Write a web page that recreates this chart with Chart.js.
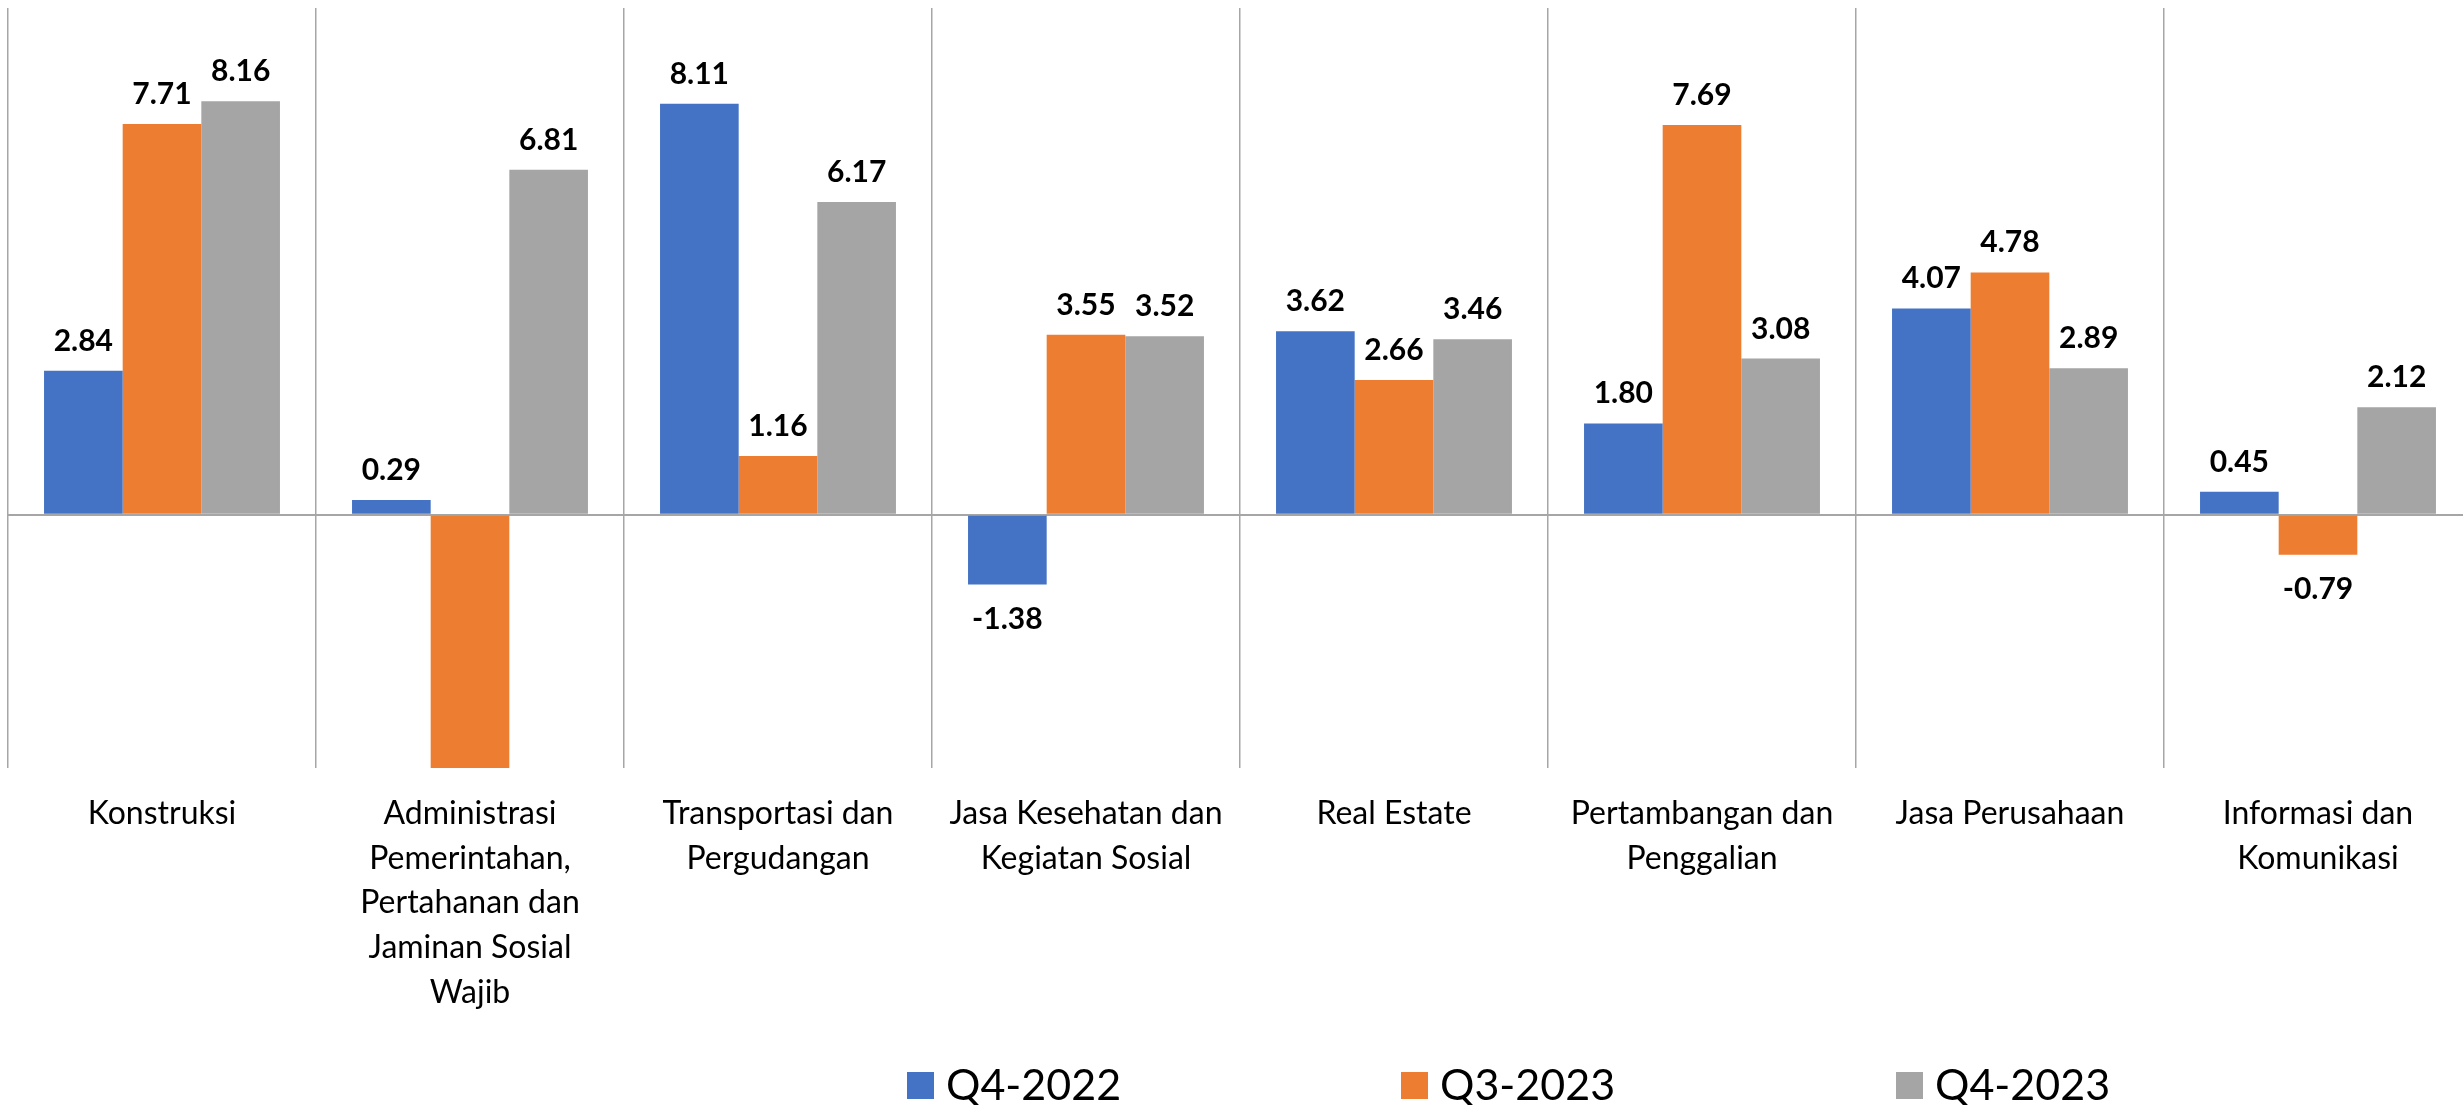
<!DOCTYPE html>
<html lang="id">
<head>
<meta charset="utf-8">
<title>Pertumbuhan Lapangan Usaha</title>
<script src="https://cdn.jsdelivr.net/npm/chart.js@4.4.1/dist/chart.umd.min.js"></script>
<style>
    html, body { margin: 0; padding: 0; background: #fff; overflow: hidden; }
    #wrap { width: 2463px; height: 1105px; overflow: hidden; }
    canvas { display: block; }
</style>
</head>
<body>
<div id="wrap"><canvas id="growthChart" width="2472" height="1105"></canvas></div>
<script>
// Lapangan usaha (label dipecah per baris seperti di sumbu)
const kategori = [
    ['Konstruksi'],
    ['Administrasi', 'Pemerintahan,', 'Pertahanan dan', 'Jaminan Sosial', 'Wajib'],
    ['Transportasi dan', 'Pergudangan'],
    ['Jasa Kesehatan dan', 'Kegiatan Sosial'],
    ['Real Estate'],
    ['Pertambangan dan', 'Penggalian'],
    ['Jasa Perusahaan'],
    ['Informasi dan', 'Komunikasi']
];

const namaSeri = ['Q4-2022', 'Q3-2023', 'Q4-2023'];

// Pertumbuhan (%) per periode
const q4_2022 = [2.84, 0.29, 8.11, -1.38, 3.62, 1.80, 4.07, 0.45];
const q3_2023 = [7.71, -7.20, 1.16, 3.55, 2.66, 7.69, 4.78, -0.79];
const q4_2023 = [8.16, 6.81, 6.17, 3.52, 3.46, 3.08, 2.89, 2.12];

const warna = ['#4472C4', '#ED7D31', '#A5A5A5'];
const garis = '#A6A6A6';

// Label angka di atas / bawah batang (dilewati kalau batang keluar dari sumbu)
const labelNilai = {
    id: 'labelNilai',
    afterDatasetsDraw(chart) {
        const ctx = chart.ctx;
        const y = chart.scales.y;
        ctx.save();
        ctx.font = 'bold 30px Lato';
        ctx.fillStyle = '#000';
        ctx.textAlign = 'center';
        ctx.textBaseline = 'alphabetic';
        chart.data.datasets.forEach((ds, i) => {
            chart.getDatasetMeta(i).data.forEach((bar, j) => {
                const v = ds.data[j];
                if (v < y.min || v > y.max) return;
                const teks = v.toFixed(2);
                if (v >= 0) ctx.fillText(teks, bar.x, bar.y - 20);
                else ctx.fillText(teks, bar.x, bar.y + 44);
            });
        });
        ctx.restore();
    }
};

// Legenda di bawah grafik
const legendaBawah = {
    id: 'legendaBawah',
    afterDraw(chart) {
        const ctx = chart.ctx;
        const posX = [907, 1401, 1896];
        ctx.save();
        ctx.font = '43px Lato';
        ctx.textBaseline = 'middle';
        ctx.textAlign = 'left';
        chart.data.datasets.forEach((ds, i) => {
            ctx.fillStyle = ds.backgroundColor;
            ctx.fillRect(posX[i], 1072, 27, 27);
            ctx.fillStyle = '#000';
            ctx.fillText(ds.label, posX[i] + 39, 1086);
        });
        ctx.restore();
    }
};

function initChart() {
    const ctx = document.getElementById('growthChart').getContext('2d');

    const data = {
        labels: kategori,
        datasets: [q4_2022, q3_2023, q4_2023].map((nilai, i) => ({
            label: namaSeri[i],
            data: nilai,
            backgroundColor: warna[i],
            borderWidth: 0,
            categoryPercentage: 0.766,
            barPercentage: 1.0
        }))
    };

    const config = {
        type: 'bar',
        data: data,
        options: {
            responsive: false,
            animation: false,
            devicePixelRatio: 1,
            layout: { padding: { top: 8, left: 8, right: 0, bottom: 0 } },
            plugins: {
                legend: { display: false },
                tooltip: { enabled: false }
            },
            scales: {
                x: {
                    grid: { color: garis, lineWidth: 1.5, drawTicks: false, offset: true },
                    border: { display: false },
                    ticks: {
                        color: '#000',
                        padding: 23,
                        maxRotation: 0,
                        autoSkip: false,
                        font: { family: 'Lato', size: 32, lineHeight: 1.4 }
                    },
                    afterFit: scale => { scale.height = 337; }
                },
                y: {
                    min: -5,
                    max: 10,
                    ticks: { display: false, stepSize: 5 },
                    border: { display: false },
                    grid: {
                        drawTicks: false,
                        lineWidth: 2,
                        color: c => (c.tick && c.tick.value === 0 ? garis : 'rgba(0,0,0,0)')
                    },
                    afterFit: scale => { scale.width = 0; }
                }
            }
        },
        plugins: [labelNilai, legendaBawah]
    };

    new Chart(ctx, config);
}

window.onload = function() {
    Promise.all([
        document.fonts.load('32px Lato'),
        document.fonts.load('bold 30px Lato'),
        document.fonts.load('43px Lato')
    ]).then(initChart, initChart);
};
</script>
</body>
</html>
